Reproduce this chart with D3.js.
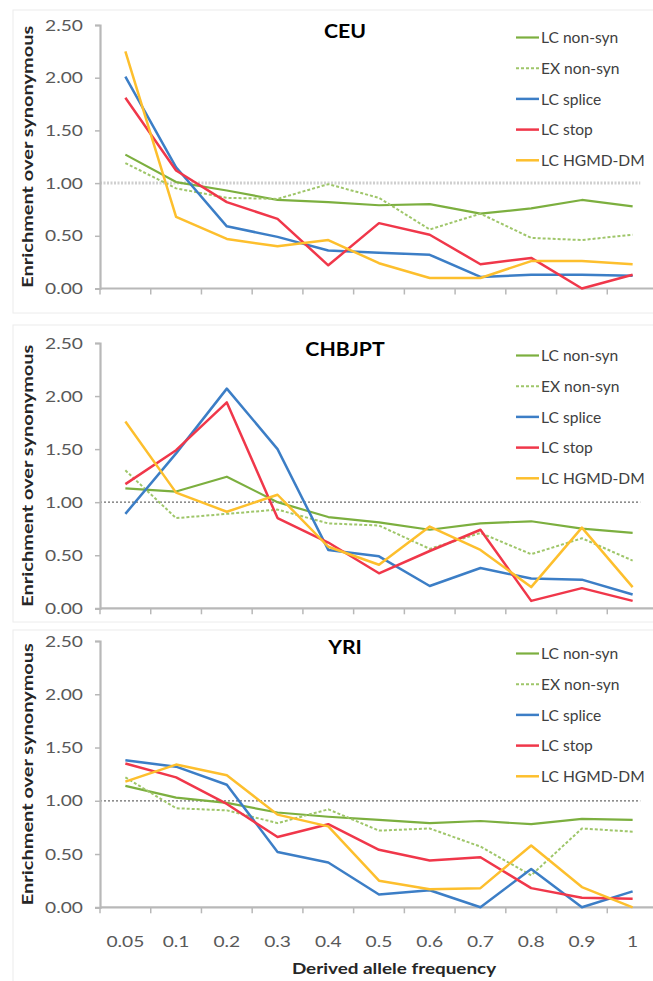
<!DOCTYPE html>
<html>
<head>
<meta charset="utf-8">
<script src="https://cdn.jsdelivr.net/npm/d3@7"></script>
<style>
  html, body { margin: 0; padding: 0; background: #fff; }
  svg { display: block; }
</style>
</head>
<body>
<svg id="chart" width="653" height="981"></svg>
<script>
// ---- data -------------------------------------------------------------
const categories = ["0.05", "0.1", "0.2", "0.3", "0.4", "0.5", "0.6", "0.7", "0.8", "0.9", "1"];
const seriesNames = ["LC non-syn", "EX non-syn", "LC splice", "LC stop", "LC HGMD-DM"];
const populations = ["CEU", "CHBJPT", "YRI"];
const yTickValues = [0, 0.5, 1, 1.5, 2, 2.5];
const referenceLevel = 1;

const ceuLcNonSyn = [1.27, 1.01, 0.93, 0.84, 0.82, 0.79, 0.80, 0.71, 0.76, 0.84, 0.78];
const ceuExNonSyn = [1.19, 0.95, 0.86, 0.85, 0.99, 0.86, 0.56, 0.71, 0.48, 0.46, 0.51];
const ceuLcSplice = [2.01, 1.15, 0.59, 0.49, 0.36, 0.34, 0.32, 0.11, 0.13, 0.13, 0.12];
const ceuLcStop   = [1.81, 1.12, 0.82, 0.66, 0.22, 0.62, 0.51, 0.23, 0.29, 0.00, 0.13];
const ceuLcHgmd   = [2.25, 0.68, 0.47, 0.40, 0.46, 0.24, 0.10, 0.10, 0.26, 0.26, 0.23];

const asnLcNonSyn = [1.13, 1.10, 1.24, 1.00, 0.86, 0.81, 0.74, 0.80, 0.82, 0.75, 0.71];
const asnExNonSyn = [1.30, 0.85, 0.89, 0.93, 0.80, 0.78, 0.56, 0.71, 0.51, 0.66, 0.45];
const asnLcSplice = [0.89, 1.46, 2.07, 1.50, 0.55, 0.49, 0.21, 0.38, 0.28, 0.27, 0.13];
const asnLcStop   = [1.17, 1.49, 1.94, 0.85, 0.62, 0.33, 0.54, 0.74, 0.07, 0.19, 0.07];
const asnLcHgmd   = [1.76, 1.09, 0.91, 1.07, 0.58, 0.41, 0.77, 0.55, 0.20, 0.76, 0.20];

const yriLcNonSyn = [1.14, 1.03, 0.98, 0.89, 0.85, 0.82, 0.79, 0.81, 0.78, 0.83, 0.82];
const yriExNonSyn = [1.22, 0.93, 0.91, 0.79, 0.92, 0.72, 0.74, 0.57, 0.30, 0.74, 0.71];
const yriLcSplice = [1.38, 1.32, 1.15, 0.52, 0.42, 0.12, 0.16, 0.00, 0.36, 0.00, 0.15];
const yriLcStop   = [1.35, 1.22, 0.97, 0.66, 0.78, 0.54, 0.44, 0.47, 0.18, 0.09, 0.08];
const yriLcHgmd   = [1.18, 1.34, 1.24, 0.87, 0.76, 0.25, 0.17, 0.18, 0.58, 0.19, 0.00];

const panelSeries = [
  [ceuLcNonSyn, ceuExNonSyn, ceuLcSplice, ceuLcStop, ceuLcHgmd],
  [asnLcNonSyn, asnExNonSyn, asnLcSplice, asnLcStop, asnLcHgmd],
  [yriLcNonSyn, yriExNonSyn, yriLcSplice, yriLcStop, yriLcHgmd]
];

// ---- styling ----------------------------------------------------------
const seriesColors = ["#7caf3f", "#9fc66a", "#3c7ec6", "#f0374a", "#fdbf2d"];
const seriesDash   = [null, "3,2", null, null, null];
const seriesWidth  = [2.2, 2, 2.5, 2.5, 2.5];

const FONT = "Lato, 'Open Sans', sans-serif";
const STRETCH = 1.28;          // glyphs in this figure run wide

// vertical extent of each panel's plotting area
const panelLayout = [
  { top: 25,  bottom: 288.5, frameTop: 10,  frameBottom: 313, refStyle: "light" },
  { top: 343, bottom: 608.3, frameTop: 325, frameBottom: 622, refStyle: "dark" },
  { top: 641, bottom: 907.3, frameTop: 630, frameBottom: 1000, refStyle: "dark" }
];

const svg = d3.select("#chart");

const x = d3.scaleBand().domain(categories).range([100, 658]);
const cx = c => x(c) + x.bandwidth() / 2;

// text with a horizontal stretch so the glyph proportions match the figure
function addText(g, str, px, py, opts) {
  const t = g.append("text")
    .attr("transform", `translate(${px},${py}) scale(${opts.sx || STRETCH},1)`)
    .attr("font-family", FONT)
    .attr("font-size", opts.size)
    .attr("font-weight", opts.weight || "normal")
    .attr("fill", opts.fill || "#404040")
    .attr("text-anchor", opts.anchor || "start")
    .attr("dominant-baseline", opts.baseline || "auto")
    .text(str);
  return t;
}

panelLayout.forEach((layout, pi) => {
  const g = svg.append("g");
  const y = d3.scaleLinear().domain([0, 2.5]).range([layout.bottom, layout.top]);

  // faint chart-area frame
  g.append("rect")
    .attr("x", 13).attr("y", layout.frameTop)
    .attr("width", 700).attr("height", layout.frameBottom - layout.frameTop)
    .attr("fill", "none").attr("stroke", "#ececec").attr("stroke-width", 1);

  // reference line at 1.00
  const lastX = cx(categories[categories.length - 1]) + x.bandwidth() * 0.15;
  g.append("line")
    .attr("x1", x.range()[0]).attr("x2", lastX)
    .attr("y1", y(referenceLevel)).attr("y2", y(referenceLevel))
    .attr("stroke", layout.refStyle === "light" ? "#cfcfcf" : "#6a6a6a")
    .attr("stroke-width", layout.refStyle === "light" ? 3 : 1.2)
    .attr("stroke-dasharray", layout.refStyle === "light" ? "2,1.5" : "2,2");

  // y axis
  const yAxis = d3.axisLeft(y).tickValues(yTickValues).tickSize(5).tickPadding(0).tickFormat(() => "");
  const ya = g.append("g").attr("transform", `translate(${x.range()[0]},0)`).call(yAxis);
  ya.select(".domain").attr("stroke", "#b8b8b8").attr("stroke-width", 2.2);
  ya.selectAll(".tick line").attr("stroke", "#b8b8b8").attr("stroke-width", 1.5);
  yTickValues.forEach(v => {
    addText(g, d3.format(".2f")(v), 83, y(v), {
      size: 15, fill: "#595959", anchor: "end", baseline: "central"
    });
  });

  // x axis with tick marks on category boundaries
  g.append("line")
    .attr("x1", x.range()[0]).attr("x2", x.range()[1])
    .attr("y1", y(0)).attr("y2", y(0))
    .attr("stroke", "#b8b8b8").attr("stroke-width", 2.2);
  categories.concat(["end"]).forEach((c, i) => {
    const bx = i < categories.length ? x(c) : x.range()[1];
    g.append("line")
      .attr("x1", bx).attr("x2", bx)
      .attr("y1", y(0)).attr("y2", y(0) + 6)
      .attr("stroke", "#b8b8b8").attr("stroke-width", 1.5);
  });

  // series
  const line = d3.line().x((d, i) => cx(categories[i])).y(d => y(d));
  panelSeries[pi].forEach((vals, si) => {
    g.append("path")
      .datum(vals)
      .attr("d", line)
      .attr("fill", "none")
      .attr("stroke", seriesColors[si])
      .attr("stroke-width", seriesWidth[si])
      .attr("stroke-dasharray", seriesDash[si])
      .attr("stroke-linejoin", "round");
  });

  // panel title
  addText(g, populations[pi], 345, layout.top + 6, {
    size: 18, weight: "bold", fill: "#000", anchor: "middle", baseline: "central", sx: 1.18
  });

  // y axis title
  g.append("text")
    .attr("transform", `translate(27,${(layout.top + layout.bottom) / 2}) rotate(-90)`)
    .attr("font-family", FONT)
    .attr("font-size", 15.5)
    .attr("font-weight", "bold")
    .attr("fill", "#262626")
    .attr("text-anchor", "middle")
    .attr("dominant-baseline", "central")
    .attr("textLength", 262)
    .attr("lengthAdjust", "spacingAndGlyphs")
    .text("Enrichment over synonymous");

  // legend
  seriesNames.forEach((name, si) => {
    const ly = layout.top + 12.5 + si * 30.7;
    g.append("line")
      .attr("x1", 516).attr("x2", 539)
      .attr("y1", ly).attr("y2", ly)
      .attr("stroke", seriesColors[si])
      .attr("stroke-width", seriesWidth[si])
      .attr("stroke-dasharray", seriesDash[si]);
    addText(g, name, 541, ly, { size: 15, fill: "#404040", baseline: "central", sx: 1.04 });
  });

  // category labels and axis title on the bottom panel only
  if (pi === panelLayout.length - 1) {
    categories.forEach(c => {
      addText(g, c, cx(c), 941, { size: 15, fill: "#595959", anchor: "middle", baseline: "central" });
    });
    addText(g, "Derived allele frequency", 394, 968, {
      size: 16, weight: "bold", fill: "#262626", anchor: "middle", baseline: "central", sx: 1.18
    });
  }
});
</script>
</body>
</html>
